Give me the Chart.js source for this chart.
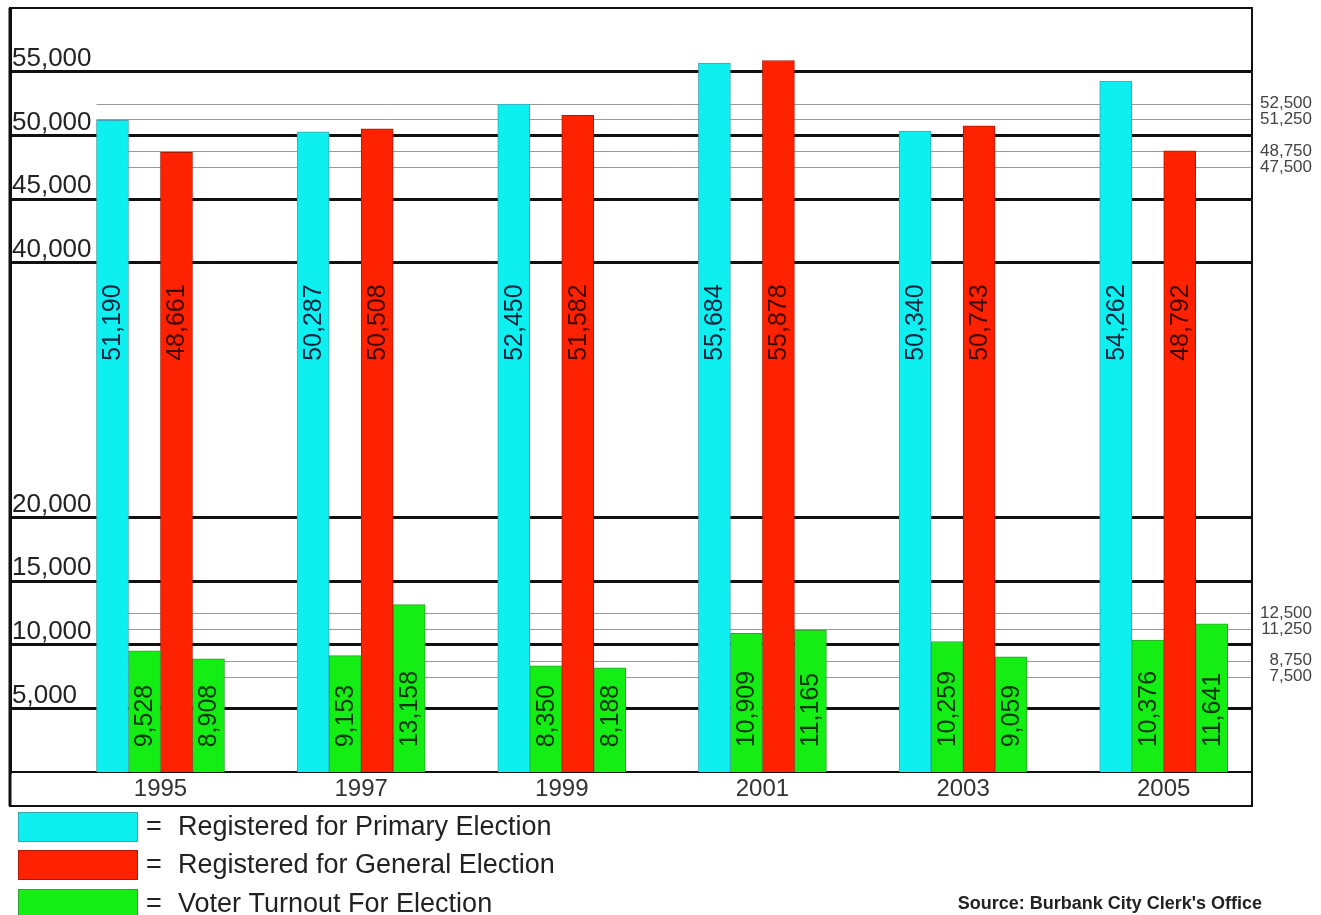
<!DOCTYPE html>
<html><head><meta charset="utf-8">
<script src="https://cdn.jsdelivr.net/npm/chart.js@4.4.1/dist/chart.umd.min.js"></script>
<style>html,body{margin:0;padding:0;background:#fff}canvas{display:block}</style>
</head><body>
<canvas id="c" width="1321" height="915"></canvas>
<script>
const years = [1995, 1997, 1999, 2001, 2003, 2005];
const primaryRegistered = [51190, 50287, 52450, 55684, 50340, 54262];
const primaryTurnout    = [9528, 9153, 8350, 10909, 10259, 10376];
const generalRegistered = [48661, 50508, 51582, 55878, 50743, 48792];
const generalTurnout    = [8908, 13158, 8188, 11165, 9059, 11641];
const leftTicks  = [5000, 10000, 15000, 20000, 40000, 45000, 50000, 55000];
const rightTicks = [7500, 8750, 11250, 12500, 47500, 48750, 51250, 52500];
const legendLabels = ['Registered for Primary Election', 'Registered for General Election', 'Voter Turnout For Election'];
const sourceText = "Source: Burbank City Clerk's Office";

const FONT = '"Liberation Sans", Arial, sans-serif';
const CYAN = '#0ef0f0', RED = '#ff2200', GREEN = '#14ee14';

function pts(arr){ return years.map((yr,i)=>({x:yr, y:arr[i]})); }

const datasets = [
  {label: legendLabels[0], data: pts(primaryRegistered), backgroundColor: CYAN, borderColor: '#3aa8b0', labelColor: '#0d2440', labelStart: 32300},
  {label: 'Primary Turnout', data: pts(primaryTurnout), backgroundColor: GREEN, borderColor: '#30a030', labelColor: '#0a350a', labelStart: 1950},
  {label: legendLabels[1], data: pts(generalRegistered), backgroundColor: RED, borderColor: '#b01800', labelColor: '#3d0800', labelStart: 32300},
  {label: 'General Turnout', data: pts(generalTurnout), backgroundColor: GREEN, borderColor: '#30a030', labelColor: '#0a350a', labelStart: 1950}
].map(d => Object.assign(d, {borderWidth: 1, barThickness: 32}));

const thinLines = {
  id: 'thinLines',
  beforeDatasetsDraw(chart){
    const ctx = chart.ctx, r = chart.scales.y2, a = chart.chartArea;
    const b = chart.getDatasetMeta(0).data[0];
    const x0 = b.x - b.width/2;
    ctx.save();
    ctx.strokeStyle = '#9a9a9a'; ctx.lineWidth = 1;
    rightTicks.forEach(v => {
      const py = Math.round(r.getPixelForValue(v)) + 0.5;
      ctx.beginPath(); ctx.moveTo(x0, py); ctx.lineTo(a.right, py); ctx.stroke();
    });
    ctx.restore();
  }
};

const barLabels = {
  id: 'barLabels',
  afterDatasetsDraw(chart){
    const ctx = chart.ctx, ys = chart.scales.y;
    chart.data.datasets.forEach((ds, di) => {
      chart.getDatasetMeta(di).data.forEach((bar, i) => {
        const v = ds.data[i].y;
        ctx.save();
        ctx.translate(bar.x + 1, ys.getPixelForValue(ds.labelStart));
        ctx.rotate(-Math.PI/2);
        ctx.font = '25px ' + FONT;
        ctx.fillStyle = ds.labelColor;
        ctx.textAlign = 'left'; ctx.textBaseline = 'middle';
        ctx.fillText(v.toLocaleString('en-US'), 0, 0);
        ctx.restore();
      });
    });
  }
};

const frameAndLegend = {
  id: 'frameAndLegend',
  afterDraw(chart){
    const ctx = chart.ctx, a = chart.chartArea, xs = chart.scales.x;
    ctx.save();
    ctx.strokeStyle = '#111'; ctx.lineWidth = 2;
    const bottom = Math.round(xs.bottom) - 1;
    ctx.strokeRect(a.left, a.top, a.right - a.left, bottom - a.top);
    ctx.lineWidth = 3;
    ctx.beginPath(); ctx.moveTo(a.left, a.top); ctx.lineTo(a.left, bottom); ctx.stroke();
    // legend
    const colors = [CYAN, RED, GREEN];
    const borders = ['#3aa8b0', '#b01800', '#30a030'];
    const tops = [812, 850, 889];
    ctx.font = '27px ' + FONT;
    ctx.textBaseline = 'middle';
    tops.forEach((t, k) => {
      ctx.fillStyle = colors[k];
      ctx.fillRect(18, t, 120, 30);
      ctx.strokeStyle = borders[k]; ctx.lineWidth = 1;
      ctx.strokeRect(18.5, t + 0.5, 119, 29);
      ctx.fillStyle = '#222';
      ctx.fillText('=', 146, t + 16);
      ctx.fillText(legendLabels[k], 178, t + 16);
    });
    ctx.font = 'bold 18px ' + FONT;
    ctx.fillStyle = '#222';
    ctx.textAlign = 'right';
    ctx.fillText(sourceText, 1262, 904);
    ctx.restore();
  }
};

new Chart(document.getElementById('c'), {
  type: 'bar',
  data: { datasets },
  plugins: [thinLines, barLabels, frameAndLegend],
  options: {
    responsive: false,
    animation: false,
    layout: { padding: { top: 8, left: 6, right: 9, bottom: 108 } },
    plugins: { legend: { display: false }, tooltip: { enabled: false } },
    scales: {
      x: {
        type: 'linear', position: 'bottom', offset: false,
        min: 1993.50, max: 2005.88,
        afterBuildTicks: s => { s.ticks = years.map(v => ({value: v})); },
        afterFit: s => { s.paddingLeft = 0; s.paddingRight = 0; },
        grid: { display: false, drawTicks: false, offset: false },
        border: { display: true, color: '#111', width: 2 },
        ticks: { callback: v => String(v), font: { size: 24, family: FONT }, color: '#333', padding: 3, maxRotation: 0, autoSkip: false }
      },
      y: {
        type: 'linear', position: 'left', min: 0, max: 60000,
        afterBuildTicks: s => { s.ticks = leftTicks.map(v => ({value: v})); },
        afterFit: s => { s.paddingTop = 0; s.paddingBottom = 0; },
        grid: { color: '#111', lineWidth: 3, drawTicks: false },
        border: { display: true, color: '#111', width: 3 },
        ticks: { mirror: true, padding: 2, labelOffset: -13, callback: v => v.toLocaleString('en-US'), font: { size: 26, family: FONT }, color: '#222', autoSkip: false }
      },
      y2: {
        type: 'linear', position: 'right', min: 0, max: 60000,
        afterBuildTicks: s => { s.ticks = rightTicks.map(v => ({value: v})); },
        afterFit: s => { s.paddingTop = 0; s.paddingBottom = 0; },
        grid: { display: false, drawTicks: false },
        border: { display: false },
        ticks: { crossAlign: 'far', padding: 4, callback: v => v.toLocaleString('en-US'), font: { size: 17, family: FONT }, color: '#444', autoSkip: false }
      }
    }
  }
});
</script>
</body></html>
